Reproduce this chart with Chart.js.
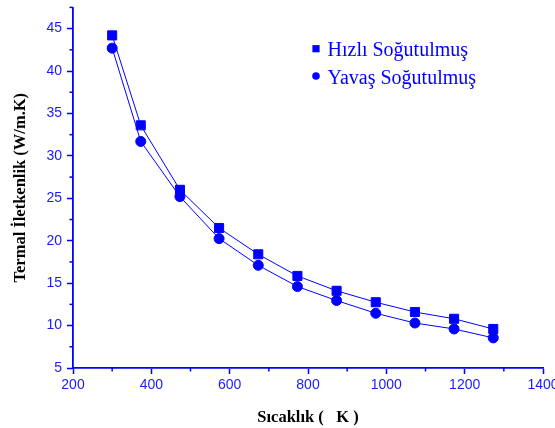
<!DOCTYPE html>
<html>
<head>
<meta charset="utf-8">
<script src="https://cdn.jsdelivr.net/npm/chart.js@4/dist/chart.umd.min.js"></script>
<style>
html,body{margin:0;padding:0;background:#fff;}
#wrap{width:555px;height:428px;}
</style>
</head>
<body>
<div id="wrap"><canvas id="c" width="555" height="428"></canvas></div>
<script>
const temperatures = [300, 373, 473, 573, 673, 773, 873, 973, 1073, 1173, 1273];
const fastCooled = [44.2, 33.6, 26.0, 21.5, 18.4, 15.85, 14.1, 12.75, 11.6, 10.8, 9.6];
const slowCooled = [42.7, 31.7, 25.2, 20.25, 17.1, 14.6, 12.95, 11.45, 10.3, 9.6, 8.55];
const seriesLabels = ['Hızlı Soğutulmuş', 'Yavaş Soğutulmuş'];
const xTitle = 'Sıcaklık (   K )';
const yTitle = 'Termal İletkenlik (W/m.K)';

const BLUE = '#0000ff';
const LABEL_BLUE = '#1a1aff';

function pts(ys){ return temperatures.map((x,i)=>({x:x,y:ys[i]})); }

const minorTicks = {
  id:'minorTicks',
  afterDraw(chart){
    const ctx = chart.ctx;
    ctx.save();
    ctx.strokeStyle = BLUE;
    ctx.lineWidth = 1.5;
    const xs = chart.scales.x, ys = chart.scales.y;
    const xt = xs.ticks.map(t=>t.value);
    for(let i=0;i<xt.length-1;i++){
      const v=(xt[i]+xt[i+1])/2, p=xs.getPixelForValue(v);
      ctx.beginPath(); ctx.moveTo(p, xs.top); ctx.lineTo(p, xs.top+3.5); ctx.stroke();
    }
    const yt = ys.ticks.map(t=>t.value);
    const yv=[];
    for(let i=0;i<yt.length-1;i++) yv.push((yt[i]+yt[i+1])/2);
    if(ys.max > yt[yt.length-1]) yv.push(ys.max);
    yv.forEach(v=>{
      const p=ys.getPixelForValue(v);
      ctx.beginPath(); ctx.moveTo(ys.right, p); ctx.lineTo(ys.right-3.5, p); ctx.stroke();
    });
    ctx.restore();
  }
};

const customLegend = {
  id:'customLegend',
  afterDraw(chart){
    const ctx = chart.ctx;
    ctx.save();
    ctx.fillStyle = BLUE;
    ctx.font = '20px "Liberation Serif", "Times New Roman", serif';
    ctx.textBaseline = 'alphabetic';
    const rows = [{my:48.7, by:56}, {my:76, by:83.5}];
    chart.data.datasets.forEach((ds,i)=>{
      const r = rows[i];
      ctx.beginPath();
      if(ds.pointStyle==='rect'){ ctx.rect(316-3.6, r.my-3.6, 7.2, 7.2); }
      else { ctx.arc(316, r.my, 3.8, 0, Math.PI*2); }
      ctx.fill();
      ctx.fillText(ds.label, 327.5, r.by);
    });
    ctx.restore();
  }
};

const tickFont = {family:'"Liberation Sans", Arial, sans-serif', size:14};
const titleFont = {family:'"Liberation Serif", "Times New Roman", serif', size:16.5, weight:'bold'};

new Chart(document.getElementById('c'), {
  type:'line',
  data:{
    datasets:[
      {label:seriesLabels[0], data:pts(fastCooled), borderColor:BLUE, backgroundColor:BLUE,
       borderWidth:1, pointStyle:'rect', pointRadius:6.4, pointHoverRadius:6.4, tension:0},
      {label:seriesLabels[1], data:pts(slowCooled), borderColor:BLUE, backgroundColor:BLUE,
       borderWidth:1, pointStyle:'circle', pointRadius:5, pointHoverRadius:5, tension:0}
    ]
  },
  options:{
    responsive:false,
    animation:false,
    events:[],
    layout:{padding:{left:0, top:7, right:12, bottom:0}},
    plugins:{legend:{display:false}, tooltip:{enabled:false}},
    scales:{
      x:{
        type:'linear', min:200, max:1400,
        afterFit(s){ s.height = 60; s.paddingLeft = 0; s.paddingRight = 0; },
        border:{display:true, color:BLUE, width:1.8},
        grid:{drawOnChartArea:false, drawTicks:true, tickLength:6, tickWidth:1.5, tickColor:BLUE},
        ticks:{stepSize:200, includeBounds:false, color:LABEL_BLUE, padding:3, font:tickFont,
               maxRotation:0, autoSkip:false, callback:(v)=>String(v)},
        title:{display:true, text:xTitle, color:'#000', padding:{top:3, bottom:0}, font:titleFont}
      },
      y:{
        type:'linear', min:5, max:47.5,
        afterFit(s){ s.width = 73; s.paddingTop = 0; s.paddingBottom = 0; },
        border:{display:true, color:BLUE, width:1.8},
        grid:{drawOnChartArea:false, drawTicks:true, tickLength:6, tickWidth:1.5, tickColor:BLUE},
        ticks:{stepSize:5, includeBounds:false, color:LABEL_BLUE, padding:5, font:tickFont,
               autoSkip:false, callback:(v)=>String(v)},
        title:{display:true, text:yTitle, color:'#000', padding:{top:11, bottom:0}, font:titleFont}
      }
    }
  },
  plugins:[minorTicks, customLegend]
});
</script>
</body>
</html>
